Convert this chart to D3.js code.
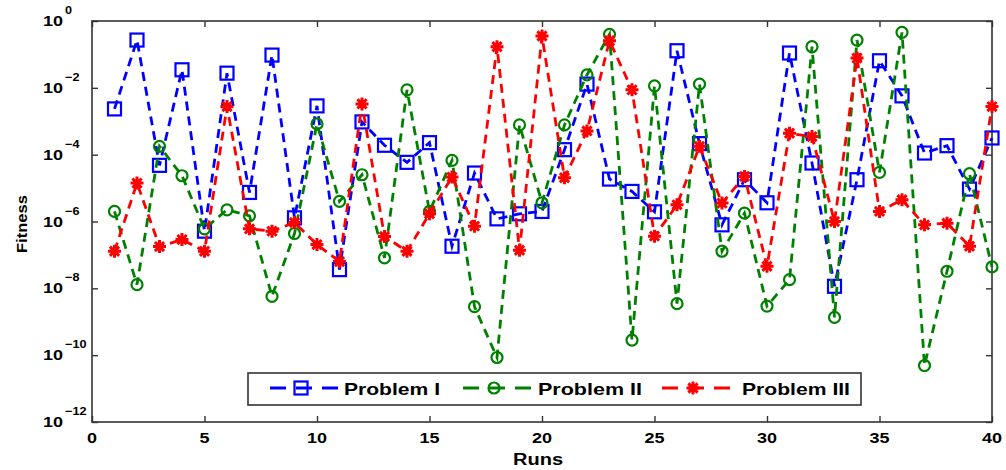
<!DOCTYPE html>
<html><head><meta charset="utf-8">
<script src="https://cdn.jsdelivr.net/npm/d3@7"></script>
<style>body{margin:0;background:#fff}svg{display:block}text{font-family:"Liberation Sans",Arial,sans-serif;font-weight:bold;fill:#000}</style>
</head><body><svg id="c" width="1006" height="470"></svg>
<script>
const runs = d3.range(1, 41);
const problemI = [2.34e-3,0.269,4.79e-5,3.47e-2,5.13e-7,2.75e-2,7.41e-6,9.55e-2,1.29e-6,2.88e-3,
  3.63e-8,9.55e-4,1.91e-4,5.89e-5,2.29e-4,1.82e-7,2.82e-5,1.20e-6,1.70e-6,2.0e-6,
  1.41e-4,1.29e-2,1.86e-5,7.94e-6,1.95e-6,0.129,2.14e-4,7.94e-7,1.78e-5,3.63e-6,
  0.110,5.62e-5,1.15e-8,1.78e-5,6.46e-2,5.75e-3,1.12e-4,1.86e-4,9.33e-6,3.16e-4];
const problemII = [2.0e-6,1.29e-8,1.78e-4,2.34e-5,6.03e-7,2.24e-6,1.48e-6,5.75e-9,4.37e-7,8.32e-4,
  3.98e-6,2.51e-5,8.13e-8,8.71e-3,2.0e-6,6.76e-5,2.82e-9,8.51e-11,7.76e-4,3.63e-6,
  7.76e-4,2.45e-2,0.398,2.82e-10,1.15e-2,3.47e-9,1.29e-2,1.29e-7,1.78e-6,2.95e-9,
  1.82e-8,0.170,1.35e-9,0.269,2.95e-5,0.457,4.90e-11,3.24e-8,2.69e-5,4.37e-8];
const problemIII = [1.29e-7,1.41e-5,1.78e-7,2.88e-7,1.29e-7,2.75e-3,6.03e-7,5.13e-7,9.33e-7,2.04e-7,
  6.31e-8,3.31e-3,3.55e-7,1.29e-7,1.70e-6,2.14e-5,7.24e-7,0.170,1.38e-7,0.355,
  2.04e-5,5.13e-4,0.257,8.71e-3,3.63e-7,3.16e-6,1.78e-4,3.55e-6,2.24e-5,4.57e-8,
  4.37e-4,3.47e-4,1.0e-6,7.76e-2,2.0e-6,4.47e-6,7.94e-7,8.91e-7,1.82e-7,2.75e-3];
const seriesNames = ["Problem I","Problem II","Problem III"];
const xTicks = [0,5,10,15,20,25,30,35,40];
const yTickExps = [0,-2,-4,-6,-8,-10,-12];

const svg = d3.select("#c");
const L=92,R=992,T=21,B=422;
const x = d3.scaleLinear().domain([0,40]).range([L,R]);
const y = d3.scaleLog().domain([1e-12,1]).range([B,T]);

const series = [
  {name:seriesNames[0], vals:problemI, color:"#0000ff", marker:"square"},
  {name:seriesNames[1], vals:problemII, color:"#008000", marker:"circle"},
  {name:seriesNames[2], vals:problemIII, color:"#ff0000", marker:"star"}
];

// frame
svg.append("rect").attr("x",L).attr("y",T).attr("width",R-L).attr("height",B-T)
  .attr("fill","none").attr("stroke","#333").attr("stroke-width",1.6);

const yTickVals = yTickExps.map(e=>Math.pow(10,e));
const axStyle = g=>{g.select(".domain").remove(); g.selectAll("line").attr("stroke","#333").attr("stroke-width",1.4);};
svg.append("g").attr("transform",`translate(0,${B})`).call(d3.axisBottom(x).tickValues(xTicks).tickSize(-6).tickFormat("")).call(axStyle);
svg.append("g").attr("transform",`translate(0,${T})`).call(d3.axisTop(x).tickValues(xTicks).tickSize(-6).tickFormat("")).call(axStyle);
svg.append("g").attr("transform",`translate(${L},0)`).call(d3.axisLeft(y).tickValues(yTickVals).tickSize(-6).tickFormat("")).call(axStyle);
svg.append("g").attr("transform",`translate(${R},0)`).call(d3.axisRight(y).tickValues(yTickVals).tickSize(-6).tickFormat("")).call(axStyle);

// x tick labels
svg.selectAll(".xl").data(xTicks).join("text").attr("class","xl")
  .attr("transform",d=>`translate(${x(d)},443) scale(1.2,1)`).attr("text-anchor","middle")
  .attr("font-size",15).text(d=>d);
// y tick labels
const yl = svg.selectAll(".yl").data(yTickExps).join("g").attr("class","yl")
  .attr("transform",d=>`translate(43,${y(Math.pow(10,d))})`);
yl.append("text").attr("transform","translate(0,5) scale(1.2,1)").attr("font-size",15).text("10");
yl.append("text").attr("transform","translate(22,-7) scale(1.15,1)").attr("font-size",11)
  .text(d=>d===0?"0":"\u2212"+Math.abs(d));

// axis titles
svg.append("text").attr("x",538).attr("y",465).attr("text-anchor","middle").attr("font-size",16)
  .attr("textLength",50).attr("lengthAdjust","spacingAndGlyphs").text("Runs");
svg.append("text").attr("transform","translate(27,224) rotate(-90)").attr("text-anchor","middle")
  .attr("font-size",15).attr("textLength",58).attr("lengthAdjust","spacingAndGlyphs").text("Fitness");

function drawMarker(g, type, color){
  if(type==="square"){
    g.append("rect").attr("x",-6.5).attr("y",-6.5).attr("width",13).attr("height",13)
      .attr("fill","none").attr("stroke",color).attr("stroke-width",2.2);
  } else if(type==="circle"){
    g.append("circle").attr("r",5.5).attr("fill","none").attr("stroke",color).attr("stroke-width",2.2);
  } else {
    const s=6.5, d=4.6;
    g.append("path").attr("d",`M${-s},0L${s},0M0,${-s}L0,${s}M${-d},${-d}L${d},${d}M${-d},${d}L${d},${-d}`)
      .attr("stroke",color).attr("stroke-width",3).attr("fill","none");
  }
}

const line = d3.line().x((d,i)=>x(runs[i])).y(d=>y(d));
series.forEach(s=>{
  svg.append("path").datum(s.vals).attr("d",line).attr("fill","none").attr("stroke",s.color)
    .attr("stroke-width",2.8).attr("stroke-dasharray","9,6");
  svg.append("g").selectAll("g").data(s.vals).join("g")
    .attr("transform",(d,i)=>`translate(${x(runs[i])},${y(d)})`)
    .each(function(){ drawMarker(d3.select(this), s.marker, s.color); });
});

// legend
svg.append("rect").attr("x",248).attr("y",373).attr("width",613).attr("height",32)
  .attr("fill","#fff").attr("stroke","#333").attr("stroke-width",1.6);
const legX = [270,463,662];
const legText = [344,538,742];
const legLen = [96,104,108];
series.forEach((s,i)=>{
  const g = svg.append("g");
  g.append("line").attr("x1",legX[i]).attr("x2",legX[i]+68).attr("y1",388).attr("y2",388)
    .attr("stroke",s.color).attr("stroke-width",2.8).attr("stroke-dasharray","16,10");
  const m = g.append("g").attr("transform",`translate(${legX[i]+31},388)`);
  drawMarker(m, s.marker, s.color);
  g.append("text").attr("x",legText[i]).attr("y",395).attr("font-size",17)
    .attr("textLength",legLen[i]).attr("lengthAdjust","spacingAndGlyphs").text(s.name);
});
</script></body></html>
